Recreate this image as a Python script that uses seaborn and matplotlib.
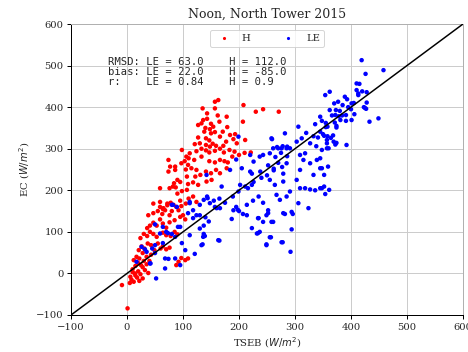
import matplotlib
matplotlib.use("Agg")
import matplotlib.pyplot as plt
import seaborn as sns
import pandas as pd
import numpy as np

# ---- data ----
H_pts = [
 (1,-84),(-9,-28),(5,-23),(8,-15),(12,-20),(15,-5),(18,-10),(24,-2),(10,3),(14,0),(20,5),(22,-18),(6,-8),(28,-12),
 (10,10),(15,18),(20,25),(28,15),(32,8),(38,1),(25,20),(35,22),
 (12,32),(17,40),(22,36),(28,49),(35,40),(43,45),(30,30),(40,30),
 (21,56),(26,65),(31,60),(37,72),(43,68),(49,56),(55,72),(64,65),(70,58),(76,62),(60,60),
 (24,85),(30,95),(36,90),(41,100),(47,95),(53,88),(64,98),(70,92),(85,100),(90,94),(78,90),
 (36,109),(41,115),(47,122),(53,115),(59,130),(64,120),(70,110),(76,123),(85,128),(95,136),(100,140),(104,130),
 (38,140),(47,145),(55,150),(63,143),(68,152),(76,140),(59,160),(64,155),(72,164),(80,150),(88,160),(92,152),(97,162),
 (88,20),(92,28),(97,37),(104,32),(109,36),
 (47,168),(59,172),(65,157),(72,168),(78,170),(83,165),(95,175),(105,168),(110,180),(118,185),(124,172),
 (59,205),(76,205),(82,209),(87,207),(90,192),(98,198),(107,201),(84,217),(90,225),(95,220),(107,233),(109,215),(118,219),(127,213),(142,221),(151,225),
 (74,245),(86,249),(105,250),(115,253),(124,249),(122,233),(131,237),(141,245),(150,241),(159,249),(166,241),(178,253),
 (74,273),(77,257),(86,257),(97,265),(103,270),(109,261),(110,277),(120,273),(133,281),(147,270),(157,267),(166,273),(174,270),(180,267),(188,281),
 (98,297),(106,281),(112,289),(124,294),(133,300),(141,296),(147,291),(157,295),(166,300),(173,291),(183,297),(192,293),(200,285),(210,290),(221,291),
 (121,311),(130,313),(141,309),(148,305),(153,312),(159,307),(172,307),(177,317),(196,313),(211,321),
 (127,327),(141,325),(147,320),(166,329),(184,333),(190,323),(193,335),
 (138,341),(150,337),(157,340),(171,341),(127,357),(133,361),(148,347),(154,353),(179,352),(207,365),
 (136,369),(143,372),(143,385),(162,380),(178,377),(135,397),(157,397),(157,413),(163,417),(208,405),(230,389),(243,395),(271,389),
 (150,360),(165,365),(140,350),
]
LE_pts = [
 (52,-12),(41,24),(17,28),(42,24),(68,12),(68,36),(74,35),(86,36),(95,20),(104,56),(121,47),(35,52),(26,64),(32,58),(45,60),(50,49),
 (50,118),(64,112),(70,100),(80,95),(86,88),(59,96),(95,112),(98,73),(64,73),(50,68),(73,97),(91,112),
 (80,165),(112,172),(130,165),(137,177),(144,181),(148,169),(118,152),(124,140),(109,145),(112,169),(82,165),(89,160),(130,140),(118,133),
 (133,68),(136,88),(130,108),(137,115),(146,125),(140,135),(163,80),(165,79),(135,70),(139,90),(112,92),(137,95),
 (157,160),(166,157),(187,131),(198,153),(214,140),(190,152),(207,143),(160,157),(195,160),(200,150),
 (223,109),(234,97),(249,70),(257,87),(278,75),(292,52),(294,106),(282,143),(249,140),(243,124),(261,124),(296,143),(234,133),(252,152),(237,100),(232,96),(255,87),(276,75),(249,68),(235,133),(258,124),(252,145),(279,145),(294,148),(306,169),(324,157),
 (143,185),(155,175),(165,180),(175,170),(189,185),(199,197),(202,213),(211,209),(169,209),(223,213),(216,205),(226,220),(240,230),(255,225),(264,213),(267,189),(273,177),(285,185),(279,221),(291,197),(303,225),(309,205),(318,205),(327,202),(336,200),(345,205),(361,201),(348,205),(352,209),(354,191),
 (142,237),(184,249),(205,253),(220,245),(214,165),(225,175),(235,185),(243,170),(223,240),(238,245),(250,236),(262,248),(279,240),(252,260),(262,252),(270,266),(277,256),(226,269),(243,285),(255,289),(265,280),(275,290),(286,282),(237,281),(220,285),(195,274),(199,329),(259,323),(268,304),(278,306),(286,305),(282,337),
 (276,301),(261,301),(270,301),(285,301),(291,301),(258,325),(285,265),(309,285),(318,289),(315,273),(327,265),(339,273),(345,253),(359,257),(333,237),(352,237),(309,249),
 (306,353),(336,359),(355,352),(320,338),(333,330),(341,327),(352,331),(312,325),(303,317),(327,313),(338,306),(348,297),(357,301),(345,277),(348,253),
 (419,513),(458,489),(426,480),(410,457),(415,456),(410,441),(413,433),(420,438),(428,436),(413,429),(362,437),(354,429),(389,425),(393,419),(377,413),(370,409),(401,409),(428,411),(385,405),(405,410),(423,400),(425,398),(427,396),(373,393),(380,391),(362,393),(406,383),(366,380),(372,381),(378,378),(384,380),(391,381),(345,377),(348,367),(355,362),(381,369),(391,367),(401,369),(433,365),(449,373),(371,363),(374,355),(358,353),(374,351),(345,341),(350,335),(358,330),(364,326),(368,332),(357,313),(357,321),(369,317),(372,310),(374,314),(392,309),(360,301),(400,395),(395,400),
]
H_tseb = [p[0] for p in H_pts]
H_ec = [p[1] for p in H_pts]
LE_tseb = [p[0] for p in LE_pts]
LE_ec = [p[1] for p in LE_pts]

series_names = ["H", "LE"]
series_colors = ["red", "blue"]
stats_text = ("RMSD: LE = 63.0    H = 112.0\n"
              "bias: LE = 22.0    H = -85.0\n"
              "r:    LE = 0.84    H = 0.9")
title = "Noon, North Tower 2015"
xlabel = "TSEB ($W/m^2$)"
ylabel = "EC ($W/m^2$)"
ticks = [-100, 0, 100, 200, 300, 400, 500, 600]

df = pd.concat([
    pd.DataFrame({"TSEB": H_tseb, "EC": H_ec, "flux": "H"}),
    pd.DataFrame({"TSEB": LE_tseb, "EC": LE_ec, "flux": "LE"}),
], ignore_index=True)

sns.set_style("white")
plt.rcParams["font.family"] = ["DejaVu Serif"]
plt.rcParams["mathtext.fontset"] = "dejavusans"

fig = plt.figure(figsize=(468/72, 352/72), dpi=72)
ax = fig.add_axes([71/468, 1-315/352, 392/468, 291/352])

sns.scatterplot(data=df, x="TSEB", y="EC", hue="flux", hue_order=series_names,
                palette=dict(zip(series_names, series_colors)), s=20, linewidth=0,
                ax=ax, zorder=3, legend=True)
ax.plot(ticks[:1] + ticks[-1:], ticks[:1] + ticks[-1:], color="black", lw=1.5, zorder=4)

ax.set_xlim(-100, 600)
ax.set_ylim(-100, 600)
ax.set_xticks(ticks)
ax.set_yticks(ticks)
ax.grid(True, color="#cccccc", lw=1)
ax.set_axisbelow(True)
for s in ["top", "right"]:
    ax.spines[s].set_color("#b0b0b0")
    ax.spines[s].set_linewidth(1)
for s in ["left", "bottom"]:
    ax.spines[s].set_color("black")
    ax.spines[s].set_linewidth(1)
ax.tick_params(axis="both", which="both", direction="out", length=4, width=1,
               color="black", labelsize=10, bottom=True, left=True)
ax.set_xlabel(xlabel, fontsize=10)
ax.set_ylabel(ylabel, fontsize=10)
ax.set_title(title, fontsize=12.5)

leg = ax.legend(loc="upper center", ncol=2, frameon=True, fontsize=10,
                markerscale=0.7, columnspacing=2.8, bbox_to_anchor=(0.5, 0.995))
leg.get_frame().set_edgecolor("#cccccc")

ax.text(0.094, 0.885, stats_text, transform=ax.transAxes, va="top", ha="left",
        family="DejaVu Sans Mono", fontsize=10.5, linespacing=0.95, zorder=5)

fig.savefig("out.png", dpi=72)
